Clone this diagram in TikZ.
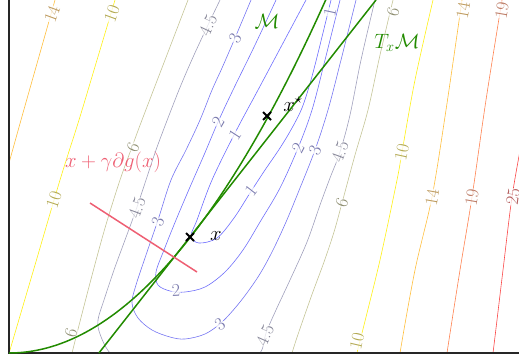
\documentclass[tikz,border=0pt]{standalone}
\begin{document}
\begin{tikzpicture}[x=1pt,y=-1pt]
\useasboundingbox (0,0) rectangle (519,362);
\definecolor{cA}{RGB}{108,108,255}
\definecolor{cB}{RGB}{112,112,250}
\definecolor{cC}{RGB}{118,118,242}
\definecolor{cD}{RGB}{160,160,188}
\definecolor{cE}{RGB}{196,196,150}
\definecolor{cF}{RGB}{255,240,20}
\definecolor{cG}{RGB}{255,190,60}
\definecolor{cH}{RGB}{255,130,80}
\definecolor{cI}{RGB}{250,70,70}
\definecolor{lA}{RGB}{120,120,172}
\definecolor{lD}{RGB}{132,132,150}
\definecolor{lE}{RGB}{140,140,110}
\definecolor{lF}{RGB}{178,168,80}
\definecolor{lG}{RGB}{188,152,90}
\definecolor{lH}{RGB}{188,122,100}
\definecolor{lI}{RGB}{178,90,90}
\definecolor{mgreen}{RGB}{34,139,0}
\definecolor{mred}{RGB}{238,95,115}
\tikzset{
  cl/.style={line width=0.6pt},
  lab/.style={font=\fontsize{18}{18}\selectfont, inner sep=0.3pt, fill=white, fill opacity=0.75, text opacity=1},
  big/.style={font=\fontsize{22.5}{22.5}\selectfont, inner sep=0pt},
  crossmark/.style={line width=1.8pt, black},
  manifold/.style={line width=1.5pt, mgreen},
  sm/.style={smooth, tension=0.55},
}
% contours
\begin{scope}
\clip (9,0) rectangle (519,353);
\draw[cl,cA] plot[sm] coordinates {(306,0) (282,45) (258,90) (235,133) (212,180) (197,220) (191,236) (199,243) (217,238) (234,218) (250,193) (265,170) (280,148) (292,128) (302,108) (311,80) (320,45) (331,0)};
\draw[cl,cB] plot[sm] coordinates {(276,0) (255,45) (233,90) (218,122) (204,155) (190,187) (176,220) (164,250) (156,272) (158,285) (170,291) (185,292) (205,287) (225,272) (243,250) (260,222) (280,188) (298,148) (312,110) (325,60) (340,0)};
\draw[cl,cC] plot[sm] coordinates {(251,0) (235,38) (222,68) (212,90) (200,120) (186,150) (171,180) (158,220) (146,255) (136,285) (132,303) (138,318) (152,330) (170,337) (185,339) (205,334) (222,322) (240,302) (258,277) (272,252) (286,222) (300,188) (315,150) (328,110) (341,60) (356,0)};
\draw[cl,cD] plot[sm] coordinates {(220,0) (208,25) (194,55) (181,85) (168,118) (156,150) (146,180) (136,210) (125,240) (114,270) (104,300) (98,320) (100,334) (110,353) (135,375) (185,385) (235,375) (260,353) (266,333) (276,310) (290,280) (307,242) (320,205) (330,178) (340,152) (350,115) (361,60) (375,0)};
\draw[cl,cE] plot[sm] coordinates {(188,0) (165,60) (142,120) (132,147) (120,180) (105,228) (90,283) (72,353) (62,395)};
\draw[cl,cE] plot[sm] coordinates {(280,400) (292,353) (310,300) (324,262) (334,232) (342,203) (355,155) (368,110) (380,55) (393,0)};
\draw[cl,cF] plot[sm] coordinates {(115,0) (97,60) (79,120) (60,180) (35,265) (10,350) (0,385)};
\draw[cl,cF] plot[sm] coordinates {(350,390) (357,353) (362,333) (380,260) (397,180) (402,152) (415,80) (433,0)};
\draw[cl,cG] plot[sm] coordinates {(55,0) (38,60) (21,120) (9,163) (0,195)};
\draw[cl,cG] plot[sm] coordinates {(395,390) (400,353) (415,270) (432,197) (446,110) (462,0)};
\draw[cl,cH] plot[sm] coordinates {(442,390) (447,353) (460,270) (472,197) (486,100) (502,0)};
\draw[cl,cI] plot[sm] coordinates {(488,390) (493,353) (503,270) (512,197) (522,140)};
\end{scope}
% axes
\draw[line width=1.3pt, black!85] (9,0) -- (9,353) -- (519,353);
% contour labels
\node[lab,text=lG,rotate=70] (t14a) at (52,14) {14};
\node[lab,text=lG,rotate=80] (t14b) at (463,10) {14};
\node[lab,text=lG,rotate=80] (t14c) at (432,197) {14};
\node[lab,text=lF,rotate=70] (t10a) at (112,14) {10};
\node[lab,text=lF,rotate=72] (t10b) at (54,200) {10};
\node[lab,text=lF,rotate=78] (t10c) at (402,152) {10};
\node[lab,text=lF,rotate=77] (t10d) at (357,341) {10};
\node[lab,text=lH,rotate=80] (t19a) at (502,10) {19};
\node[lab,text=lH,rotate=80] (t19b) at (472,197) {19};
\node[lab,text=lI,rotate=82] (t25a) at (513,197) {25};
\node[lab,text=lE,rotate=75] (t6a) at (393,12) {6};
\node[lab,text=lE,rotate=68] (t6b) at (133,147) {6};
\node[lab,text=lE,rotate=72] (t6c) at (342,203) {6};
\node[lab,text=lE,rotate=74] (t6d) at (71,333) {6};
\node[lab,text=lD,rotate=65] (t45a) at (208,25) {4.5};
\node[lab,text=lD,rotate=70] (t45b) at (137,208) {4.5};
\node[lab,text=lD,rotate=70] (t45c) at (340,152) {4.5};
\node[lab,text=lD,rotate=66] (t45d) at (265,335) {4.5};
\node[lab,text=lA,rotate=65] (t3a) at (235,38) {3};
\node[lab,text=lA,rotate=72] (t3b) at (158,222) {3};
\node[lab,text=lA,rotate=66] (t3c) at (315,150) {3};
\node[lab,text=lA,rotate=35] (t3d) at (220,324) {3};
\node[lab,text=lA,rotate=60] (t2a) at (218,122) {2};
\node[lab,text=lA,rotate=62] (t2b) at (298,148) {2};
\node[lab,text=lA,rotate=3] (t2c) at (176,290) {2};
\node[lab,text=lA,rotate=57] (t1a) at (235,135) {1};
\node[lab,text=lA,rotate=52] (t1b) at (251,191) {1};
\node[lab,text=lA,rotate=78] (t1c) at (330,12) {1};
% manifold and tangent
\draw[manifold] plot[domain=9:326.5, samples=80] (\x, {353-35.2*((\x-9)/100)^2});
\coordinate (tb) at (98.9,353);
\coordinate (tt) at (376,0);
\draw[manifold] (tb) -- (tt);
% subdifferential segment
\coordinate (ra) at (90,203);
\coordinate (rb) at (197,272);
\draw[line width=1.5pt, mred] (ra) -- (rb);
% points
\coordinate (px) at (190,237);
\coordinate (ps) at (267,116);
\draw[crossmark] ([shift={(-4,-4)}]px) -- ([shift={(4,4)}]px) ([shift={(-4,4)}]px) -- ([shift={(4,-4)}]px);
\draw[crossmark] ([shift={(-4,-4)}]ps) -- ([shift={(4,4)}]ps) ([shift={(-4,4)}]ps) -- ([shift={(4,-4)}]ps);
% texts
\node[big] (nx) at (216,236) {$x$};
\node[big] (nxs) at (293,104) {$x^\star$};
\node[big,text=mgreen] (nM) at (267,21) {$\mathcal{M}$};
\node[big,text=mgreen] (nT) at (397,43) {$T_x\mathcal{M}$};
\node[big,text=mred] (ng) at (113,162) {$x+\gamma\partial g(x)$};
\end{tikzpicture}
\end{document}
